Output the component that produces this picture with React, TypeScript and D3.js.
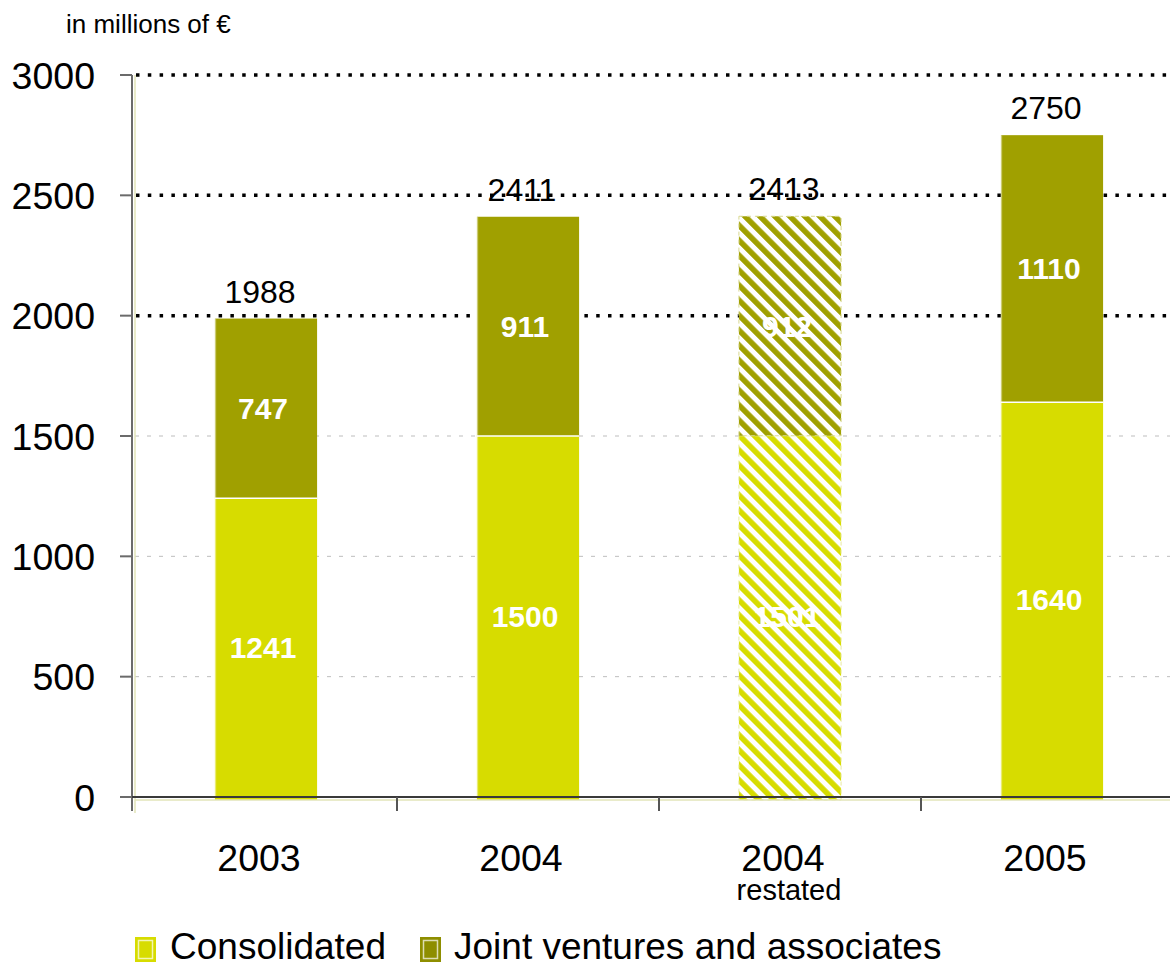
import React from "react";
import * as d3 from "d3";

const categories = ["2003", "2004", "2004r", "2005"];
const categoryLabels = ["2003", "2004", "2004", "2005"];
const subLabels = ["", "", "restated", ""];
const consolidated = [1241, 1500, 1501, 1640];
const jointVentures = [747, 911, 912, 1110];
const totals = [1988, 2411, 2413, 2750];
const hatched = [false, false, true, false];
const yTicks = [0, 500, 1000, 1500, 2000, 2500, 3000];
const boldGrid = [2000, 2500, 3000];
const lightGrid = [500, 1000, 1500];

const C_CONS = "#D7DC00";
const C_JV = "#A0A000";
const FONT = "Liberation Sans, Arial, sans-serif";

export default function App() {
  const W = 1170;
  const H = 965;
  const x = d3
    .scaleBand<string>()
    .domain(categories)
    .range([135, 135 + 4 * 262])
    .paddingInner(0.61)
    .paddingOuter(0.305);
  const y = d3.scaleLinear().domain([0, 3000]).range([797, 75]);
  const step = x.step();
  const bw = x.bandwidth();
  const axisX = 132;
  const baseY = y(0);

  return (
    <svg
      width={W}
      height={H}
      style={{ position: "absolute", left: 0, top: 0, background: "#fff" }}
      fontFamily={FONT}
    >
      <defs>
        <pattern
          id="hatchCons"
          patternUnits="userSpaceOnUse"
          width={10.6}
          height={10.6}
          patternTransform="rotate(-45)"
        >
          <rect width={10.6} height={10.6} fill="#fff" />
          <rect width={5.6} height={10.6} fill={C_CONS} />
        </pattern>
        <pattern
          id="hatchJV"
          patternUnits="userSpaceOnUse"
          width={10.6}
          height={10.6}
          patternTransform="rotate(-45)"
        >
          <rect width={10.6} height={10.6} fill="#fff" />
          <rect width={5.6} height={10.6} fill={C_JV} />
        </pattern>
      </defs>
      <rect x={0} y={0} width={W} height={H} fill="#fff" />

      {/* unit label */}
      <text x={66} y={33} fontSize={26} fill="#000">
        in millions of €
      </text>

      {/* light gridlines */}
      {lightGrid.map((v) => (
        <line
          key={"lg" + v}
          x1={axisX + 3}
          x2={W}
          y1={y(v)}
          y2={y(v)}
          stroke="#bdbdbd"
          strokeWidth={1}
          strokeDasharray="4 8"
        />
      ))}
      {/* bold dotted gridlines */}
      {boldGrid.map((v) => (
        <line
          key={"bg" + v}
          x1={axisX + 4}
          x2={W}
          y1={y(v)}
          y2={y(v)}
          stroke="#000"
          strokeWidth={3.5}
          strokeDasharray="3.5 8.3"
        />
      ))}

      {/* bars */}
      {categories.map((c, i) => {
        const x0 = x(c)!;
        const yc = y(consolidated[i]);
        const yt = y(consolidated[i] + jointVentures[i]);
        const h = hatched[i];
        return (
          <g key={c}>
            <rect
              x={x0}
              y={yc}
              width={bw}
              height={baseY + 3 - yc}
              fill={h ? "url(#hatchCons)" : C_CONS}
              stroke={h ? "#e8eba0" : "none"}
              strokeDasharray={h ? "4 4" : undefined}
              strokeWidth={1}
            />
            <rect
              x={x0}
              y={yt}
              width={bw}
              height={yc - yt}
              fill={h ? "url(#hatchJV)" : C_JV}
              stroke={h ? "#d8d890" : "none"}
              strokeDasharray={h ? "4 4" : undefined}
              strokeWidth={1}
            />
            {!h && (
              <line x1={x0} x2={x0 + bw} y1={yc} y2={yc} stroke="#fff" strokeWidth={1.5} />
            )}
            {!h && (
              <line x1={x0 + 0.5} x2={x0 + 0.5} y1={yt} y2={baseY} stroke="#fff" strokeOpacity={0.45} strokeWidth={1.5} />
            )}
          </g>
        );
      })}

      {/* axes */}
      <line x1={axisX + 3} x2={W} y1={baseY + 3} y2={baseY + 3} stroke="#e2e4b8" strokeWidth={1.5} />
      <line x1={axisX + 3} x2={axisX + 3} y1={y(3000)} y2={baseY + 16} stroke="#e2e4b8" strokeWidth={1.5} />
      <line x1={axisX} x2={axisX} y1={y(3000)} y2={baseY + 14} stroke="#6b6b6b" strokeWidth={2} />
      <line x1={120} x2={W} y1={baseY} y2={baseY} stroke="#3a3a3a" strokeWidth={2} />
      {yTicks.map((v) => (
        <g key={"yt" + v}>
          <line x1={120} x2={axisX} y1={y(v)} y2={y(v)} stroke="#6b6b6b" strokeWidth={2} />
          <text
            x={95}
            y={y(v)}
            dy="0.36em"
            textAnchor="end"
            fontSize={37.5}
            fill="#000"
          >
            {v}
          </text>
        </g>
      ))}
      {categories.slice(1).map((c) => (
        <line
          key={"xt" + c}
          x1={x(c)! - (step - bw) / 2}
          x2={x(c)! - (step - bw) / 2}
          y1={baseY}
          y2={baseY + 14}
          stroke="#555"
          strokeWidth={2}
        />
      ))}

      {/* value labels */}
      {categories.map((c, i) => {
        const cx = x(c)! + bw / 2;
        const yc = y(consolidated[i]);
        const yt = y(consolidated[i] + jointVentures[i]);
        return (
          <g key={"lbl" + c}>
            <text
              x={cx - 3}
              y={(yc + baseY) / 2}
              dy="0.35em"
              textAnchor="middle"
              fontSize={30}
              fontWeight="bold"
              fill="#fff"
            >
              {consolidated[i]}
            </text>
            <text
              x={cx - 3}
              y={(yt + yc) / 2}
              dy="0.35em"
              textAnchor="middle"
              fontSize={30}
              fontWeight="bold"
              fill="#fff"
            >
              {jointVentures[i]}
            </text>
            <text
              x={cx - 6}
              y={y(totals[i]) - 16}
              textAnchor="middle"
              fontSize={32}
              fill="#000"
            >
              {totals[i]}
            </text>
          </g>
        );
      })}

      {/* category labels */}
      {categories.map((c, i) => (
        <g key={"cat" + c}>
          <text
            x={x(c)! + bw / 2 - 7}
            y={871}
            textAnchor="middle"
            fontSize={37.5}
            fill="#000"
          >
            {categoryLabels[i]}
          </text>
          {subLabels[i] && (
            <text
              x={x(c)! + bw / 2 - 1}
              y={900}
              textAnchor="middle"
              fontSize={29}
              fill="#000"
            >
              {subLabels[i]}
            </text>
          )}
        </g>
      ))}

      {/* legend */}
      <g>
        <rect x={135} y={937} width={21} height={25} fill={C_CONS} />
        <rect x={138.5} y={940.5} width={14} height={18} fill="none" stroke="#fff" strokeOpacity={0.7} strokeWidth={1.5} />
        <text x={170} y={959} fontSize={37} fill="#000">
          Consolidated
        </text>
        <rect x={420} y={937} width={21} height={25} fill="#8E8E00" />
        <rect x={423.5} y={940.5} width={14} height={18} fill="none" stroke="#fff" strokeOpacity={0.7} strokeWidth={1.5} />
        <text x={454} y={959} fontSize={37} fill="#000">
          Joint ventures and associates
        </text>
      </g>
    </svg>
  );
}
